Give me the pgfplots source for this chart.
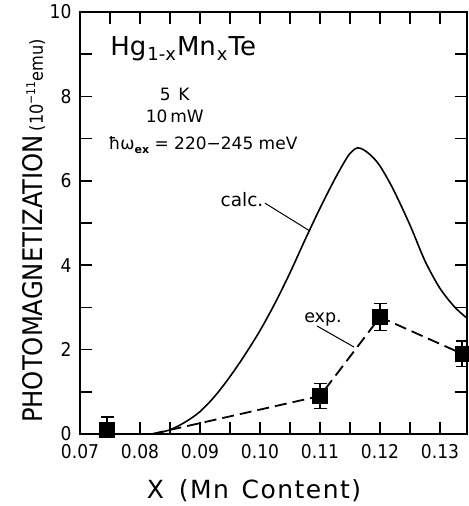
\documentclass[border=0pt]{standalone}
\usepackage{fontspec}
\setmainfont{DejaVu Sans}
\newfontfamily\narrowfont{DejaVu Sans Condensed}
\usepackage{pgfplots}
\pgfplotsset{compat=1.18}

\pgfplotstableread{
x y
0.0822 0
0.085 0.1
0.0875 0.28
0.09 0.53
0.0925 0.9
0.095 1.36
0.0975 1.88
0.1 2.45
0.1025 3.1
0.105 3.82
0.1075 4.6
0.11 5.35
0.1125 6.05
0.1145 6.55
0.1155 6.72
0.1163 6.78
0.1172 6.74
0.1185 6.6
0.12 6.35
0.1222 5.8
0.125 4.95
0.1275 4.1
0.13 3.45
0.1325 3.0
0.1347 2.72
}\calc

\pgfplotstableread{
x y e
0.0745 0.1 0.3
0.110 0.9 0.3
0.120 2.77 0.32
0.1337 1.9 0.3
}\expdata

\pgfplotstableread{
x y
0.0820 0
0.110 0.9
0.120 2.77
0.1337 1.9
}\expline

\begin{document}
\begin{tikzpicture}
\begin{axis}[
  scale only axis, width=387pt, height=422pt,
  xmin=0.07, xmax=0.1345, ymin=0, ymax=10,
  xtick={0.07,0.08,0.09,0.10,0.11,0.12,0.13},
  minor xtick={0.075,0.085,0.095,0.105,0.115,0.125},
  ytick={0,2,4,6,8,10},
  minor ytick={1,3,5,7,9},
  scaled x ticks=false,
  tick align=inside,
  major tick length=12pt, minor tick length=12pt,
  every tick/.style={line width=1.5pt, black},
  axis line style={line width=2pt},
  /pgf/number format/assume math mode=true,
  tick label style={font=\narrowfont\fontsize{19}{19}\selectfont},
  x tick label style={/pgf/number format/.cd, fixed, fixed zerofill, precision=2, /tikz/.cd, yshift=-7pt},
  y tick label style={xshift=-5pt},
  clip mode=individual,
]
\addplot[black, line width=1.6pt, smooth] table[x=x,y=y] {\calc};
\addplot[black, line width=1.8pt, dash pattern=on 12pt off 6pt] table[x=x,y=y] {\expline};
\addplot[black, only marks, mark=square*, mark size=7.5pt,
  error bars/.cd, y dir=both, y explicit,
  error bar style={line width=1.5pt, black},
  error mark options={rotate=90, mark size=6.5pt, line width=1.5pt, black}]
  table[x=x,y=y,y error=e] {\expdata};

\draw[line width=1pt] (axis cs:0.10083,5.47) -- (axis cs:0.10833,4.81);
\draw[line width=1pt] (axis cs:0.1095,2.56) -- (axis cs:0.11567,2.06);

\node[anchor=base, font=\fontsize{18.5}{18.5}\selectfont] at (axis cs:0.097,5.38) {calc.};
\node[anchor=base, font=\fontsize{17.5}{17.5}\selectfont] at (axis cs:0.1105,2.65) {exp.};

\node[anchor=base, font=\fontsize{26}{26}\selectfont] at (axis cs:0.0872,8.98)
  {Hg\kern1pt\raisebox{-0.4ex}{\fontsize{18}{18}\selectfont 1-x}\kern1pt Mn\kern1pt\raisebox{-0.4ex}{\fontsize{18}{18}\selectfont x}\kern1pt Te};
\node[anchor=base, font=\fontsize{17}{17}\selectfont] at (axis cs:0.0858,7.91) {5\hspace{0.45em}K};
\node[anchor=base, font=\fontsize{17}{17}\selectfont] at (axis cs:0.0858,7.39) {10\,mW};
\node[anchor=base, font=\fontsize{17}{17}\selectfont] at (axis cs:0.0905,6.75)
  {ħω\raisebox{-0.45ex}{\fontsize{11}{11}\selectfont\bfseries ex} = 220−245 meV};
\end{axis}
\node[anchor=base, font=\fontsize{25}{25}\selectfont\addfontfeature{LetterSpace=6}]
  at ([xshift=174pt,yshift=-64pt]current axis.south west) {X\hspace{0.6em}(Mn\hspace{0.5em}Content)};
\node[anchor=base, rotate=90, font=\narrowfont\fontsize{27}{27}\selectfont]
  at ([xshift=-37pt,yshift=203pt]current axis.south west)
  {PHOTOMAGNETIZATION\hspace{0.15em}{\fontsize{18}{18}\selectfont(10\raisebox{0.8ex}{\fontsize{12}{12}\selectfont −11}emu)}};
\pgfresetboundingbox
\path[use as bounding box] ([xshift=-80pt,yshift=-72pt]current axis.south west) rectangle ([xshift=1pt,yshift=12pt]current axis.north east);
\end{tikzpicture}
\end{document}
